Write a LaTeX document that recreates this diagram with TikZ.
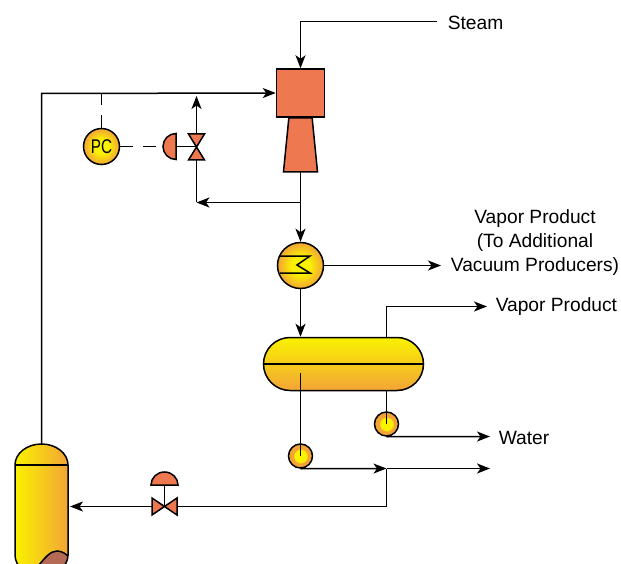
\documentclass[tikz,border=0pt]{standalone}
\usepackage{graphicx}
\usepackage{fontspec}
\setmainfont{Liberation Sans}
\usetikzlibrary{arrows.meta,shapes.geometric,shapes.misc}

\definecolor{vesselyellow}{HTML}{FAF200}
\definecolor{vesselorange}{HTML}{F2A437}
\definecolor{partred}{HTML}{EE7850}
\definecolor{liquidbrown}{HTML}{B56A55}
\pgfdeclareradialshading{ballshade}{\pgfpoint{0bp}{0bp}}{color(0bp)=(vesselyellow); color(10bp)=(vesselyellow); color(25bp)=(vesselorange); color(50bp)=(vesselorange)}
\pgfdeclareradialshading{pumpshade}{\pgfpoint{0bp}{0bp}}{color(0bp)=(vesselyellow); color(13bp)=(vesselyellow); color(15bp)=(vesselorange); color(50bp)=(vesselorange)}

\tikzset{
	part/.style={draw,line width=1.5pt,fill=partred,inner sep=0pt},
	ball/.style={circle,draw,line width=1.5pt,shading=ballshade,inner sep=0pt},
	pump/.style={circle,draw,line width=1.5pt,shading=pumpshade,inner sep=0pt,minimum size=24pt},
	label/.style={font=\fontsize{19.2}{24}\selectfont,inner sep=0pt},
}

\begin{document}
\begin{tikzpicture}[x=1pt,y=-1pt,>={Stealth[length=13pt,width=10pt,inset=3.5pt]},line width=1.5pt]
	\useasboundingbox (0,0) rectangle (621,564);

	% text
	\node[label,anchor=west]	(steam)		at (447,22.5)	{Steam};
	\node[label,align=center]	(product)	at (535,243)	{Vapor Product\\(To Additional\\Vacuum Producers)};
	\node[label,anchor=west]	(vapor)		at (495,307)	{Vapor Product};
	\node[label,anchor=west]	(water)		at (498,437.5)	{Water};

	% free ends and bends
	\coordinate (steamend)	at (437,21.5);
	\coordinate (steamcorner)	at (300.5,21.5);
	\coordinate (productend)	at (441,265.5);
	\coordinate (vaporend)	at (487,306.5);
	\coordinate (vaporcorner)	at (386.5,306.5);
	\coordinate (waterend)	at (490,436.5);
	\coordinate (outend)	at (490,468.5);
	\coordinate (tee)		at (386.5,468.5);
	\coordinate (returncorner)	at (386.5,506.5);
	\coordinate (vesselend)	at (70,506.5);
	\coordinate (vesseltop)	at (41.5,444);
	\coordinate (maincorner)	at (41.5,93.5);
	\coordinate (split)	at (300.5,202.5);
	\coordinate (bypass)	at (196.5,202.5);
	\coordinate (pcvalve)	at (196.5,146.5);
	\coordinate (pcactuator)	at (176,146.5);
	\coordinate (retvalve)	at (164.5,506.5);
	\coordinate (retactuator)	at (164.5,485);
	\coordinate (reentry)	at (196.5,96);
	\coordinate (sensetap)	at (101.5,93.5);

	% ejector
	\node[part,rectangle,minimum size=48pt]	(nozzle)	at (300.5,93)	{};
	\node[part,inner sep=1pt,outer sep=0pt,trapezium,trapezium stretches=true,trapezium angle=77,minimum width=34pt,minimum height=54pt,anchor=north]	(diffuser)	at (nozzle.south)	{};

	% vessels
	\node[ball,minimum size=46pt]	(condenser)	at (300.5,265.5)	{};
	\node[rounded rectangle,draw,minimum width=160pt,minimum height=53pt,top color=vesselyellow,middle color=vesselyellow!90!vesselorange,bottom color=vesselorange,inner sep=0pt]	(drum)	at (343.5,364)	{};
	\node[pump]	(bottompump)	at (300.5,456)	{};
	\node[pump]	(waterpump)	at (386.5,424)	{};
	\node[ball,minimum size=36pt,font=\fontsize{18}{18}\selectfont]	(pc)	at (101.5,146.5)	{\scalebox{.85}[1.1]{PC}};

	% feed vessel at the bottom
	\begin{scope}
		\clip (15,465) arc[start angle=180,end angle=0,x radius=26.5pt,y radius=21pt] -- (68,555) arc[start angle=0,end angle=-180,x radius=26.5pt,y radius=21pt] -- cycle;
		\shade[left color=vesselyellow,middle color=vesselyellow!85!vesselorange,right color=vesselorange] (15,444) rectangle (68,580);
		\fill[liquidbrown] (38,566) .. controls (45,558) and (50,551) .. (57,551) .. controls (62,551) and (66,554) .. (69,557) -- (69,580) -- (38,580) -- cycle;
		\draw (38,566) .. controls (45,558) and (50,551) .. (57,551) .. controls (62,551) and (66,554) .. (69,557);
	\end{scope}
	\draw (15,465) arc[start angle=180,end angle=0,x radius=26.5pt,y radius=21pt] -- (68,555) arc[start angle=0,end angle=-180,x radius=26.5pt,y radius=21pt] -- cycle;
	\draw (15,465) -- (68,465);

	% inside details
	\draw (drum.west) -- (drum.east);
	\draw (280,256) -- (310,256) -- (297,265) -- (310,273) -- (280,273);

	% actuators and valves
	\draw[part] ([yshift=13pt]pcactuator) arc[start angle=90,end angle=270,radius=13pt] -- cycle;
	\draw[part] ([xshift=-13.5pt]retactuator) arc[start angle=180,end angle=0,x radius=13.5pt,y radius=13pt] -- cycle;
	\draw[part] (188.5,134) -- (204.5,134) -- (188.5,160) -- (204.5,160) -- cycle;
	\draw[part] (152,498) -- (177,515) -- (177,498) -- (152,515) -- cycle;
	\draw (pcactuator) -- (pcvalve);
	\draw (retactuator) -- (retvalve);

	% process lines
	\draw[->] (steamend) -- (steamcorner) -- (nozzle.north);
	\draw[->] (vesseltop) -- (maincorner) -- (nozzle.west);
	\draw (diffuser.south) -- (split);
	\draw[->] (split) -- (condenser.north);
	\draw[->] (split) -- (bypass);
	\draw (bypass) -- (196.5,160);
	\draw[->] (196.5,134) -- (reentry);
	\draw[->] (condenser.east) -- (productend);
	\draw[->] (condenser.south) -- (condenser.south |- drum.north);
	\draw[->] (vaporcorner |- drum.north) -- (vaporcorner) -- (vaporend);
	\draw (300.5,373) -- (bottompump.center);
	\draw (waterpump.center |- drum.south) -- (waterpump.center);
	\draw[->] (waterpump.south) -- (waterend);
	\draw[->] (bottompump.south) -- (tee);
	\draw[->] (tee) -- (outend);
	\draw (tee) -- (returncorner) -- (177,506.5);
	\draw[->] (152,506.5) -- (vesselend);

	% control signals
	\draw[dash pattern=on 13pt off 10pt] (pc.north) -- (sensetap);
	\draw[dash pattern=on 13pt off 10pt] (pc.east) -- (162,146.5);
\end{tikzpicture}
\end{document}
